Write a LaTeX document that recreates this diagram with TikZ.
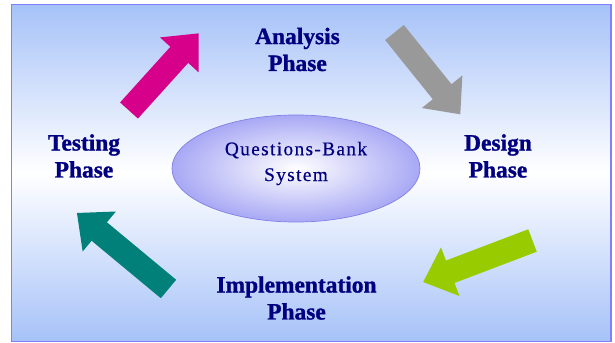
\documentclass[tikz,border=0pt]{standalone}
\usepackage{fontspec}
\setmainfont{Liberation Serif}[BoldFont={Liberation Serif Bold}]
\newfontfamily\corefont[LetterSpace=7,FakeBold=0.4]{Liberation Serif}
\newfontfamily\phasefont[FakeBold=1.2]{Liberation Serif Bold}
\usetikzlibrary{calc,shapes.geometric}
\definecolor{phasetext}{RGB}{0,0,128}
\definecolor{bgblue}{RGB}{166,194,248}
\definecolor{framecol}{RGB}{128,128,255}
\definecolor{corefill}{RGB}{168,168,245}
\definecolor{coreline}{RGB}{128,128,230}
\definecolor{magentaarrow}{RGB}{214,0,138}
\definecolor{grayarrow}{RGB}{153,153,153}
\definecolor{greenarrow}{RGB}{153,204,0}
\definecolor{tealarrow}{RGB}{0,128,120}
\tikzset{
  phase/.style={text=phasetext,font=\phasefont\fontsize{20}{23}\selectfont,
    align=center,inner sep=0pt},
  pics/phasearrow/.style args={#1/#2}{code={%
    \fill[#2] (0,-12) -- ({#1-29},-12) -- ({#1-29},-26) -- (#1,0)
      -- ({#1-29},26) -- ({#1-29},12) -- (0,12) -- cycle;
  }}
}

\begin{document}
\begin{tikzpicture}[x=0.03cm,y=-0.03cm]
    \useasboundingbox (0,0) rectangle (615,343);
    \coordinate (FrameNW) at (11.5,4.5);
    \coordinate (FrameSE) at (611,341.5);

    \shade[top color=bgblue,bottom color=bgblue,middle color=white]
      (FrameNW) rectangle (FrameSE);
    \draw[framecol,line width=1.2pt] (FrameNW) rectangle (FrameSE);

    % the system in the middle
    \node[ellipse,draw=coreline,line width=0.6pt,inner sep=0pt,
      minimum width=7.44cm,minimum height=3.21cm,
      inner color=white,outer color=corefill] (core) at (296,168.5) {};
    \node[text=phasetext,align=center,inner sep=0pt,
      font=\corefont\fontsize{16.5}{22}\selectfont] (coretext)
      at ($(core)+(0,-5)$) {Questions-Bank\\System};

    % the four phases
    \node[phase] (analysis) at (297.5,49.5) {Analysis\\Phase};
    \node[phase] (design)   at (498,156)    {Design\\Phase};
    \node[phase] (impl)     at (296.5,298)  {Implementation\\Phase};
    \node[phase] (testing)  at (84,156)     {Testing\\Phase};

    % block arrows: tail x, tail y, angle, length, colour
    \foreach \x/\y/\ang/\len/\col in {129/110.5/47.9/104/magentaarrow,
      394.5/32.5/-51.2/105/grayarrow,
      532.5/240.5/200.8/117/greenarrow,
      168.5/289/140.3/119/tealarrow}{
      \pic[rotate=\ang] at (\x,\y) {phasearrow=\len/\col};
    }
\end{tikzpicture}
\end{document}
